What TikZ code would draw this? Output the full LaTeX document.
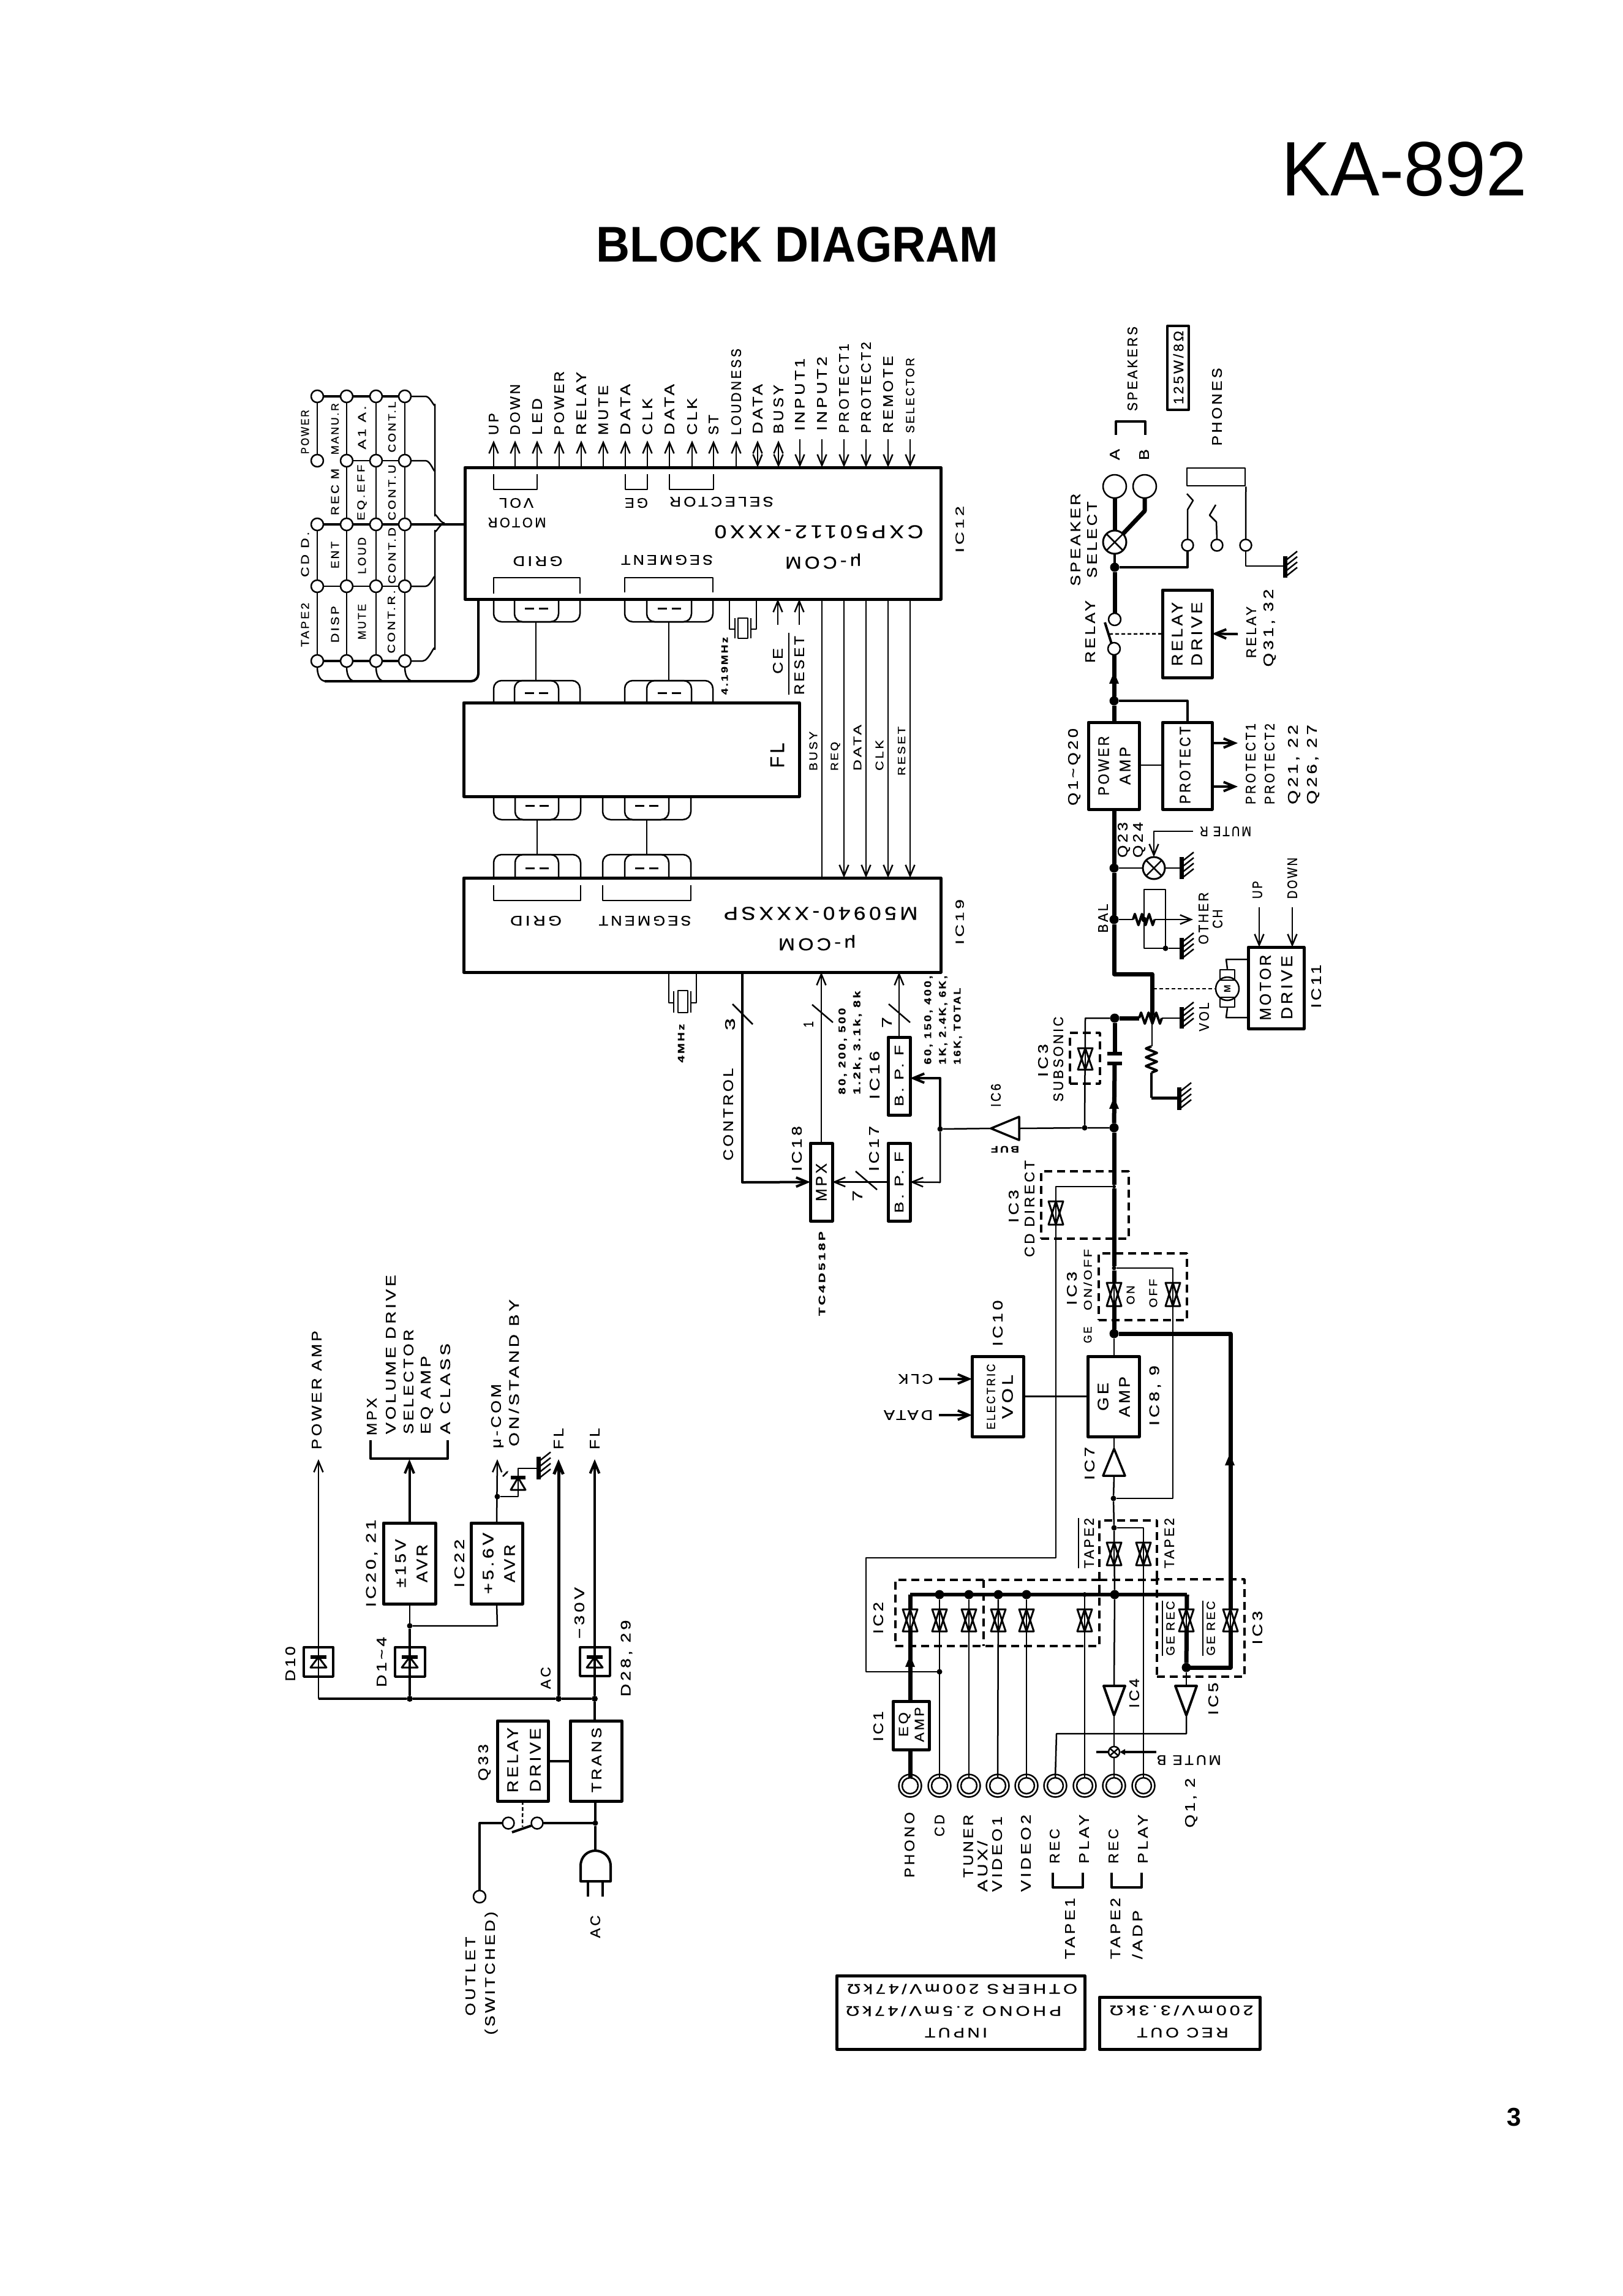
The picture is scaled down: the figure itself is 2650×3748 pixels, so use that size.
\documentclass[tikz,border=0pt]{standalone}
\usepackage{fontspec}
\usepackage{graphicx}
\usetikzlibrary{arrows.meta,calc}
\setmainfont[LetterSpace=16,FakeBold=0.6]{Liberation Sans}
\newfontfamily\plainf{Liberation Sans}
\newsavebox\tbx
\newdimen\tbd
\newcount\tn
\newcommand\fitt[3]{\pgfmathsetmacro\fsz{#2*1.08}\sbox\tbx{\fontsize{\fsz}{\fsz}\selectfont #3}\tbd=\wd\tbx\relax\pgfmathsetmacro\ff{#1/\tbd}\scalebox{\ff}[1]{\usebox\tbx}}
\newcommand\tV[5][21]{\global\advance\tn by 1 \node[rotate=90,txt] (t\the\tn) at (#2,#3) {\fitt{#4}{#1}{#5}};}
\newcommand\tVw[5][21]{\global\advance\tn by 1 \node[rotate=90,anchor=west,txt] (t\the\tn) at (#2,#3) {\fitt{#4}{#1}{#5}};}
\newcommand\tR[5][21]{\global\advance\tn by 1 \node[rotate=180,txt] (t\the\tn) at (#2,#3) {\fitt{#4}{#1}{#5}};}
\newcommand\bx[6][boxs]{\node[#1,minimum width={(#5-#3)*1pt},minimum height={(#6-#4)*1pt}] (#2) at ({(#3+#5)/2},{(#4+#6)/2}) {};}
\newcommand\dt[4][9]{\node[circle,fill=black,inner sep=0pt,outer sep=0pt,minimum size=#1pt] (#2) at (#3,#4) {};}
\newcommand\term[4][20]{\node[term,minimum size=#1pt] (#2) at (#3,#4) {};}
\newcommand\lampx[4][19]{\node[term,minimum size={2*#1*1pt},line width=3pt] (#2) at (#3,#4) {};\draw[wire] (#2.north east)--(#2.south west) (#2.north west)--(#2.south east);}
\newcommand\tgate[3]{\draw[line width=3pt,fill=white] (#1-12,#2)--(#1+12,#2)--(#1,#3)--cycle; \draw[line width=3pt] (#1-12,#3)--(#1+12,#3)--(#1,#2)--cycle; \draw[line width=2.5pt] (#1,#2)--(#1,#3);}
\newcommand\gndsym[3]{\draw[line width=7pt] (#1,#2)--(#1,#3); \foreach \k in {1,2,3,4}{\draw[line width=2.5pt] ($(#1,#2)+(1,{(\k-0.2)*(#3-#2)/4})$)--++(19,-15);}}
\newcommand\upar[2]{\fill (#1,#2-10)--(#1+8,#2+9)--(#1-8,#2+9)--cycle;}
\newcommand\zzh[3]{(#1,#2) -- ++({#3/12},-9) -- ++({#3/6},18) -- ++({#3/6},-18) -- ++({#3/6},18) -- ++({#3/6},-18) -- ++({#3/6},18) -- ++({#3/12},-9)}
\newcommand\zzv[3]{(#1,#2) -- ++(-9,{#3/12}) -- ++(18,{#3/6}) -- ++(-18,{#3/6}) -- ++(18,{#3/6}) -- ++(-18,{#3/6}) -- ++(18,{#3/6}) -- ++(-9,{#3/12})}
\newcommand\grp[6]{\draw[wire,rounded corners=13pt] (#1,#5)--(#1,#6)--(#4,#6)--(#4,#5); \draw[wire,rounded corners=13pt] (#2,#5)--(#2,#6)--(#3,#6)--(#3,#5); \draw[line width=3pt] ({(#2+#3)/2-19},{#5+(#6-#5)*.42})--++(15,0) ({(#2+#3)/2+4},{#5+(#6-#5)*.42})--++(15,0);}
\newcommand\diode[4]{\draw[line width=6pt] (#1-#4,#2)--(#1+#4,#2); \draw[line width=3pt] (#1,#2)--(#1-#4,#3)--(#1+#4,#3)--cycle;}
\tikzset{
 txt/.style={inner sep=0pt,outer sep=0pt},
 wire/.style={line width=2.5pt},
 mid/.style={line width=4pt},
 thk/.style={line width=7pt},
 ar/.style={-{Straight Barb[length=18pt,width=15pt]}},
 ara/.style={{Straight Barb[length=18pt,width=15pt]}-{Straight Barb[length=18pt,width=15pt]}},
 boxs/.style={draw,line width=5pt,inner sep=0pt,outer sep=0pt,fill=none},
 term/.style={circle,draw,line width=2.5pt,fill=white,inner sep=0pt,outer sep=0pt},
 dbox/.style={draw,line width=3.5pt,dash pattern=on 13pt off 8pt,inner sep=0pt,outer sep=0pt},
 dotl/.style={line width=2.5pt,dash pattern=on 6pt off 4pt}
}
\begin{document}
\begin{tikzpicture}[x=1pt,y=-1pt,line join=round]
\fill[white] (0,0) rectangle (2650,3748);
\useasboundingbox (0,0) rectangle (2650,3748);
% titles
\node[txt,anchor=west] (title) at (2092,276) {\plainf\fontsize{126}{126}\selectfont\scalebox{.955}[1]{KA-892}};
\node[txt] (bd) at (1302,399) {\plainf\bfseries\fontsize{82}{82}\selectfont\scalebox{.93}[1]{BLOCK DIAGRAM}};
\node[txt] (pg) at (2472,3456) {\plainf\bfseries\fontsize{42}{42}\selectfont 3};
% chips
\bx{ic12}{759}{763}{1536}{978}
\bx{fl}{757}{1147}{1305}{1300}
\bx{ic19}{757}{1433}{1536}{1587}
% IC12 top pins
\foreach \xx/\tt/\LL/\yy in {806/UP/36/710,841/DOWN/83/710,877/LED/60/710,913/POWER/104/710,949/RELAY/103/710,985/MUTE/81/710,1021/DATA/83/710,1057/CLK/60/710,1093/DATA/83/710,1130/CLK/60/710,1165/ST/33/710,1202/LOUDNESS/141/710}{
 \draw[wire,ar] (\xx,0 |- ic12.north) -- (\xx,719);
 \tVw{\xx}{\yy}{\LL}{\tt}
}
\foreach \xx/\tt/\LL in {1237/DATA/81,1271/BUSY/80}{
 \draw[wire,ara] (\xx,0 |- ic12.north) -- (\xx,719);
 \tVw{\xx}{708}{\LL}{\tt}
}
\foreach \xx/\tt/\LL/\yy in {1306/INPUT1/118/703,1342/INPUT2/121/703,1378/PROTECT1/146/707,1414/PROTECT2/149/707,1450/REMOTE/126/707}{
 \draw[wire,ar] (\xx,717) -- (\xx,0 |- ic12.north);
 \tVw{\xx}{\yy}{\LL}{\tt}
}
\draw[wire,ar] (1486,717) -- (1486,0 |- ic12.north);
\tVw[18]{1486}{707}{123}{SELECTOR}
% brackets in IC12
\draw[wire] (806,774)--(806,799)--(877,799)--(877,774);
\draw[wire] (1021,774)--(1021,799)--(1057,799)--(1057,774);
\draw[wire] (1093,774)--(1093,799)--(1165,799)--(1165,774);
\tR{843}{821}{56}{VOL}
\tR{844}{853}{95}{MOTOR}
\tR{1039}{821}{38}{GE}
\tR{1178}{819}{170}{SELECTOR}
\tR[28]{1337}{868}{341}{CXP50112-XXX0}
\tR[26]{1344}{916}{124}{μ-COM}
\tR{878}{916}{81}{GRID}
\tR{1089}{914}{150}{SEGMENT}
\draw[wire] (806,969)--(806,943)--(947,943)--(947,969);
\draw[wire] (1020,967)--(1020,943)--(1164,943)--(1164,967);
\tV[18]{1567}{864}{76}{IC12}
% key matrix
\foreach \r/\yy in {1/647,2/752,3/856,4/957,5/1079}{
 \foreach \c/\xx in {1/518,2/566,3/614,4/661}{
  \term{k\r\c}{\xx}{\yy}
 }
}
\draw[wire] (k11)--(k21) (k31)--(k41)--(k51);
\foreach \c in {2,3,4}{\draw[wire] (k1\c)--(k2\c)--(k3\c)--(k4\c)--(k5\c);}
\draw[mid] (k11)--(k12)--(k13)--(k14);
\draw[wire] (k22)--(k23)--(k24);
\draw[mid] (k31)--(k32)--(k33)--(k34);
\draw[wire] (k41)--(k42)--(k43)--(k44);
\draw[mid] (k51)--(k52)--(k53)--(k54);
\coordinate (busj) at (726,854);
\draw[mid] (k34)--(759,0 |- k34) ;
\draw[wire] (k14.east)--(695,647) to[out=0,in=-90] (710,660) -- (710,842) to[out=90,in=180] (busj);
\draw[wire] (k24.east)--(695,752) to[out=0,in=-90] (710,767);
\draw[wire] (k54.east)--(690,1079) to[out=0,in=90] (710,1060) -- (710,866) to[out=-90,in=180] (busj);
\draw[wire] (k44.east)--(695,957) to[out=0,in=90] (710,943);
\draw[mid,rounded corners=12pt] (781,978)--(781,1112)--(530,1112);
\foreach \c in {1,2,3,4}{\draw[wire] (k5\c.south) to[out=-90,in=180] ++(14,23);}
\tV[17]{498}{705}{72}{POWER}
\tV[17]{498}{1020}{72}{TAPE2}
\tV[17]{498}{905}{74}{CD D.}
\tV[16]{547}{700}{84}{MANU.R}
\tV[17]{547}{803}{76}{REC M}
\tV[17]{547}{906}{44}{ENT}
\tV[17]{547}{1019}{60}{DISP}
\tV[17]{591}{698}{71}{A1 A.}
\tV[16]{591}{804}{91}{EQ.EFF}
\tV[17]{591}{907}{60}{LOUD}
\tV[17]{591}{1015}{58}{MUTE}
\tV[16]{640}{697}{83}{CONT.L}
\tV[16]{640}{804}{91}{CONT.U}
\tV[16]{640}{907}{92}{CONT.D}
\tV[16]{639}{1015}{103}{CONT.R.}
% IC12-FL-IC19 groups
\grp{806}{840}{912}{947}{978}{1015}
\grp{1020}{1056}{1129}{1164}{978}{1015}
\grp{806}{840}{912}{947}{1147}{1111}
\grp{1020}{1056}{1129}{1164}{1147}{1111}
\grp{806}{841}{912}{948}{1300}{1338}
\grp{984}{1020}{1092}{1128}{1300}{1338}
\grp{806}{841}{912}{948}{1433}{1395}
\grp{984}{1020}{1092}{1128}{1433}{1395}
\draw[wire] (875,1015)--(875,1111) (1092,1015)--(1092,1111) (877,1338)--(877,1395) (1056,1338)--(1056,1395);
\tV[30]{1269}{1233}{41}{FL}
% IC19
\draw[wire] (806,1445)--(806,1470)--(948,1470)--(948,1445);
\draw[wire] (984,1445)--(984,1470)--(1128,1470)--(1128,1445);
\tR{875}{1503}{84}{GRID}
\tR{1053}{1503}{151}{SEGMENT}
\tR[28]{1340}{1491}{317}{M50940-XXXSP}
\tR[26]{1334}{1539}{126}{μ-COM}
\tV[18]{1567}{1505}{74}{IC19}
% crystals
\draw[wire] (1191,0 |- ic12.south)--(1191,1027)--(1200,1027) (1235,0 |- ic12.south)--(1235,1027)--(1226,1027);
\draw[wire] (1200,1009)--(1200,1042) (1226,1009)--(1226,1042);
\bx[draw,line width=2.5pt,inner sep=0pt]{xt1}{1205}{1009}{1221}{1042}
\tV[14]{1183}{1087}{94}{\bfseries 4.19MHz}
\draw[wire] (1092,0 |- ic19.south)--(1092,1637)--(1100,1637) (1137,0 |- ic19.south)--(1137,1637)--(1128,1637);
\draw[wire] (1100,1618)--(1100,1653) (1128,1618)--(1128,1653);
\bx[draw,line width=2.5pt,inner sep=0pt]{xt2}{1107}{1617}{1123}{1653}
\tV[14]{1112}{1703}{63}{\bfseries 4MHz}
% CE RESET
\draw[wire,ar] (1270,1020)--(1270,0 |- ic12.south);
\draw[wire,ar] (1305,1020)--(1305,0 |- ic12.south);
\tV{1270}{1079}{42}{CE}
\tV{1305}{1086}{96}{RESET}
\draw[wire] (1288,1033)--(1288,1134);
% buses
\draw[wire] (1342,0 |- ic12.south)--(1342,0 |- ic19.north);
\foreach \xx in {1378,1414,1450,1486}{\draw[wire,ar] (\xx,0 |- ic12.south)--(\xx,0 |- ic19.north);}
\tVw[17]{1328}{1258}{64}{BUSY}
\tVw[16]{1364}{1258}{47}{REQ}
\tVw[17]{1400}{1258}{75}{DATA}
\tVw[17]{1436}{1258}{50}{CLK}
\tVw[16]{1472}{1266}{80}{RESET}
% below IC19
\bx{mpx}{1323}{1866}{1359}{1993}
\bx{bpf1}{1450}{1693}{1486}{1820}
\bx{bpf2}{1450}{1866}{1486}{1993}
\draw[mid,ar] (1212,0 |- ic19.south)--(1212,1930)--(mpx.west);
\draw[wire] (1196,1639)--(1229,1672) (1326,1640)--(1360,1669) (1451,1639)--(1486,1669) (1397,1912)--(1432,1942);
\tV{1192}{1672}{20}{3}
\tV{1320}{1672}{10}{1}
\tV{1448}{1669}{18}{7}
\tV{1400}{1952}{18}{7}
\tV{1189}{1819}{151}{CONTROL}
\draw[wire,ar] (mpx.north)--(mpx.north |- ic19.south);
\draw[wire,ar] (bpf1.north)--(bpf1.north |- ic19.south);
\draw[wire,ar] (bpf2.west)--(mpx.east);
\tV[15]{1376}{1716}{141}{\bfseries 80, 200, 500}
\tV[15]{1400}{1702}{169}{\bfseries 1.2k, 3.1k, 8k}
\tV{1428}{1755}{79}{IC16}
\tV[15]{1516}{1665}{145}{\bfseries 60, 150, 400,}
\tV[15]{1540}{1665}{145}{\bfseries 1K, 2.4K, 6K,}
\tV[15]{1564}{1675}{125}{\bfseries 16K, TOTAL}
\tV{1427}{1875}{74}{IC17}
\tV{1301}{1875}{74}{IC18}
\tV[19]{1468}{1756}{100}{B. P. F}
\tV[19]{1468}{1930}{100}{B. P. F}
\tV[23]{1341}{1930}{62}{MPX}
\tV[14]{1342}{2079}{138}{\bfseries TC4D518P}
% buffer
\dt{d10}{1535}{1843}
\coordinate (buft) at (1618,1842);
\coordinate (bufb) at (1664,1842);
\draw[mid,ar] (d10)--(1535,1760)--(bpf1.east |- 1535,1760);
\draw[wire,ar] (d10)--(1535,1930)--(bpf2.east);
\draw[wire] (d10)--(buft);
\draw[line width=3.5pt] (buft)--(1664,1823)--(1664,1861)--cycle;
\tV{1626}{1788}{38}{IC6}
\tR[14]{1641}{1876}{46}{\bfseries BUF}
% right chain
\node[term,minimum size=38pt] (spA) at (1820,794) {};
\node[term,minimum size=38pt] (spB) at (1869,794) {};
\lampx{ls}{1820}{885}
\dt[15]{d1}{1820}{926}
\term{rc1}{1820}{1011}
\term{rc2}{1819}{1059}
\dt[15]{d2}{1819}{1144}
\term[19]{c1}{1939}{890}
\term[19]{c2}{1987}{890}
\term[19]{c3}{2034}{890}
\bx{pa}{1777}{1179}{1860}{1321}
\bx{prot}{1898}{1179}{1979}{1321}
\bx{rd}{1898}{963}{1979}{1106}
\draw[thk] (spA.south)--(ls.north);
\coordinate (bk) at (1869,834);
\draw[thk] (spB.south)--(bk)--(ls.north east);
\draw[mid] (ls.south)--(d1);
\draw[thk] (d1)--(rc1.north);
\draw[mid] (d1) -| (c1.south);
\draw[mid] (1815,1051)--(1804,1016);
\draw[dotl] (1811,1035)--(rd.west);
\draw[mid,ar] (2021,1035)--(rd.east);
\draw[thk] (rc2.south)--(d2)--(d2 |- pa.north);
\upar{1819}{1107}
\draw[mid] (d2) -| (prot.north);
\coordinate (gp) at (2096,924);
\draw[wire] (c3.south) |- (gp);
\gndsym{2098}{908}{943}
\bx[draw,line width=2.5pt,inner sep=0pt]{phr}{1938}{764}{2033}{793}
\draw[wire] (phr.south east)--(c3.north);
\draw[wire] (c1.north)--(1939,832)--(1948,817)--(1938,806);
\draw[wire] (c2.north)--(1986,852)--(1975,841)--(1985,824);
\draw[mid] (1822,710)--(1822,688)--(1870,688)--(1870,710);
\tV{1820}{742}{18}{A}
\tV{1868}{742}{18}{B}
\tV{1849}{602}{138}{SPEAKERS}
\bx[draw,line width=4pt,inner sep=0pt]{wbox}{1906}{532}{1941}{669}
\tV{1924}{600}{120}{125W/8Ω}
\tV{1987}{664}{127}{PHONES}
\tV{1756}{881}{151}{SPEAKER}
\tV{1783}{881}{125}{SELECT}
\tV{1780}{1031}{102}{RELAY}
\tV[23]{1922}{1035}{104}{RELAY}
\tV[23]{1954}{1035}{104}{DRIVE}
\tV{2043}{1032}{84}{RELAY}
\tV{2073}{1025}{127}{Q31, 32}
\tV[23]{1802}{1250}{97}{POWER}
\tV[23]{1837}{1250}{62}{AMP}
\tV[23]{1935}{1249}{126}{PROTECT}
\draw[wire] (pa.east |- 0,1249)--(prot.west |- 0,1249);
\draw[mid,ar] (prot.east |- 0,1213)--(2021,1213);
\draw[mid,ar] (prot.east |- 0,1284)--(2021,1284);
\tVw{2042}{1313}{132}{PROTECT1}
\tVw{2073}{1313}{132}{PROTECT2}
\tVw{2113}{1313}{130}{Q21, 22}
\tVw{2144}{1313}{130}{Q26, 27}
\tV{1754}{1252}{126}{Q1\textasciitilde Q20}
% mute, bal
\dt[15]{d3}{1819}{1417}
\dt[15]{d4}{1819}{1501}
\dt[15]{d5}{1820}{1662}
\dt[15]{d6}{1819}{1841}
\dt[9]{d6b}{1771}{1841}
\dt[9]{dvw}{1881}{1662}
\lampx[18]{lm}{1884}{1417}
\draw[thk] (d2 |- pa.south)--(d3)--(d4)--(1819,1590)--(1881,1590)--(dvw);
\draw[wire] (d3)--(lm.west);
\coordinate (gm) at (1929,1417);
\draw[wire] (lm.east)--(gm);
\gndsym{1929}{1399}{1435}
\coordinate (mr) at (1948,1357);
\draw[wire,ar] (mr)--(1884,1357)--(lm.north);
\tR{2001}{1357}{84}{MUTE R}
\tV{1835}{1371}{58}{Q23}
\tV{1860}{1371}{58}{Q24}
\tV{1801}{1499}{47}{BAL}
\dt[9]{dbw}{1868}{1501}
\dt[9]{dbg}{1903}{1548}
\draw[wire] (d4)--(1850,1501);
\draw[mid] \zzh{1850}{1501}{35};
\draw[wire,ar] (1885,1501)--(1948,1501);
\draw[wire] (dbw)--(1868,1452)--(1903,1452)--(dbg)--(1868,1548)--(dbw);
\draw[wire] (dbg)--(1929,1548);
\gndsym{1929}{1531}{1566}
\tV{1965}{1499}{85}{OTHER}
\tV{1988}{1500}{31}{CH}
% vol, motor
\draw[thk] (d5)--(1860,1662);
\draw[mid] \zzh{1860}{1662}{37};
\draw[wire] (1897,1662)--(1929,1662);
\gndsym{1929}{1644}{1679}
\tV{1966}{1660}{47}{VOL}
\draw[wire] (dvw)--(1881,1708);
\draw[mid] \zzv{1880}{1708}{43};
\draw[mid] (1880,1751)--(1880,1792);
\draw[line width=5pt] (1880,1792)--(1925,1792);
\gndsym{1925}{1775}{1812}
\node[term,minimum size=38pt] (mot) at (2004,1614) {\plainf\bfseries\fontsize{15}{15}\selectfont\rotatebox{90}{M}};
\draw[dotl] (1883,1614)--(mot.west);
\bx[draw,line width=2.5pt,inner sep=0pt]{br1}{1992}{1583}{2016}{1600}
\bx[draw,line width=2.5pt,inner sep=0pt]{br2}{1992}{1628}{2016}{1644}
\bx{md}{2038}{1546}{2129}{1679}
\draw[wire] (br1.north)--(2002,1566)--(2038,1566);
\draw[wire] (br2.south)--(2002,1661)--(2038,1661);
\draw[wire,ar] (2056,1481)--(2056,0 |- md.north);
\draw[wire,ar] (2110,1481)--(2110,0 |- md.north);
\tVw{2053}{1467}{29}{UP}
\tVw{2110}{1467}{67}{DOWN}
\tV[24]{2066}{1612}{107}{MOTOR}
\tV[24]{2101}{1612}{104}{DRIVE}
\tV{2149}{1610}{71}{IC11}
% capacitor
\draw[thk] (d5)--(1820,1720);
\draw[line width=6pt] (1808,1720)--(1832,1720) (1808,1736)--(1832,1736);
\draw[thk] (1820,1736)--(d6);
\upar{1819}{1801}
% subsonic
\draw[wire] (d5)--(1772,1662)--(d6b);
\draw[wire] (d6)--(d6b)--(bufb);
\tgate{1772}{1711}{1746}
\bx[dbox]{dbsub}{1747}{1686}{1796}{1769}
\tV{1703}{1731}{54}{IC3}
\tV{1728}{1729}{139}{SUBSONIC}
% main down
\dt[6]{d7}{1819}{1937}
\dt[7]{d8}{1819}{2070}
\dt[15]{d9}{1819}{2177}
\dt[9]{d11}{1818}{2446}
\draw[thk] (d6)--(d7)--(d8);
\draw[thk] (d8)--(d9);
\tgate{1819}{2094}{2132}
\coordinate (cdl) at (1724,1937);
\draw[wire] (d7)--(cdl)--(1724,2543)--(1414,2543)--(1414,2729)--(1534,2729);
\tgate{1724}{1961}{1999}
\bx[dbox]{dbcd}{1700}{1912}{1843}{2022}
\tV{1655}{1969}{54}{IC3}
\tV{1681}{1973}{158}{CD  DIRECT}
\draw[wire] (d8)--(1915,2070)--(1915,2446)--(d11);
\tgate{1915}{2094}{2132}
\bx[dbox]{dbon}{1794}{2046}{1938}{2155}
\tV[17]{1846}{2114}{31}{ON}
\tV[17]{1883}{2111}{47}{OFF}
\tV{1750}{2103}{55}{IC3}
\tV[17]{1776}{2089}{100}{ON/OFF}
\tV[17]{1776}{2179}{27}{GE}
\bx{geamp}{1776}{2214}{1860}{2345}
\bx{evol}{1587}{2214}{1671}{2345}
\draw[wire] (d9)--(d9 |- geamp.north);
\draw[wire] (evol.east)--(geamp.west);
\draw[mid,ar] (1533,2251)--(evol.west |- 0,2251);
\draw[mid,ar] (1533,2310)--(evol.west |- 0,2310);
\tR{1495}{2251}{57}{CLK}
\tR{1483}{2310}{80}{DATA}
\tV[23]{1801}{2280}{46}{GE}
\tV[23]{1836}{2280}{66}{AMP}
\tV[18]{1618}{2280}{107}{ELECTRIC}
\tV[23]{1645}{2280}{72}{VOL}
\tV{1629}{2160}{75}{IC10}
\tV{1886}{2278}{98}{IC8, 9}
\draw[wire] (d9 |- geamp.south)--(1819,2365);
\draw[line width=3.5pt] (1819,2365)--(1801,2409)--(1837,2409)--cycle;
\draw[wire] (1819,2409)--(d11);
\tV{1779}{2389}{54}{IC7}
% ge line right
\draw[thk] (d9)--(2009,2177)--(2009,2722)--(1937,2722);
\upar{2008}{2383}
% jacks
\foreach \i/\xx in {1/1486,2/1534,3/1582,4/1629,5/1676,6/1723,7/1771,8/1819,9/1867}{
 \node[term,minimum size=37pt] (jo\i) at (\xx,2915) {};
 \node[term,minimum size=26pt] (ji\i) at (\xx,2915) {};
}
% bus
\dt[15]{db2}{1534}{2603}
\dt[15]{db3}{1582}{2603}
\dt[15]{db4}{1630}{2603}
\dt[15]{db5}{1676}{2603}
\dt[8]{db7}{1771}{2603}
\dt[15]{db8}{1820}{2603}
\dt[6]{db9}{1867}{2603}
\dt[15]{d12}{1937}{2722}
\dt[9]{dcd}{1534}{2729}
\draw[line width=6pt] (1486,2603)--(1938,2603);
\bx{eq}{1458}{2777}{1517}{2856}
\draw[thk] (1486,2603)--(eq.north -| 1486,0);
\upar{1486}{2712}
\draw[thk] (eq.south -| ji1)--(ji1.north);
\draw[wire] (db2)--(ji2.north);
\draw[wire] (db3)--(ji3.north);
\draw[wire] (db4)--(ji4.north);
\draw[wire] (db5)--(ji5.north);
\draw[wire] (db7)--(ji7.north);
\foreach \xx in {1486,1534,1582,1630,1676,1771}{\tgate{\xx}{2627}{2663}}
\dt[9]{dt2}{1819}{2494}
\draw[wire] (d11)--(dt2)--(db8);
\draw[wire] (dt2)--(1867,2494)--(ji9.north);
\tgate{1819}{2518}{2555}
\tgate{1867}{2518}{2555}
\draw[thk] (1938,2603)--(d12);
\tgate{1937}{2627}{2663}
\tgate{2009}{2627}{2663}
\bx[dbox]{dbic2}{1462}{2579}{1795}{2687}
\bx[dbox]{dbic3}{1889}{2578}{2032}{2737}
\draw[line width=3.5pt,dash pattern=on 13pt off 8pt] (1606,2579)--(1606,2687);
\draw[line width=3.5pt,dash pattern=on 13pt off 8pt] (1795,2579)--(1795,2482)--(1889,2482)--(1889,2578);
\draw[line width=3.5pt,dash pattern=on 13pt off 8pt] (1795,2579)--(1889,2579);
\tV{1434}{2641}{52}{IC2}
\tV{2053}{2657}{55}{IC3}
\tV{1778}{2519}{82}{TAPE2}
\draw[wire] (1761,2478)--(1761,2560);
\tV{1909}{2519}{82}{TAPE2}
\tV[18]{1911}{2658}{89}{GE  REC}
\draw[wire] (1898,2613)--(1898,2703);
\tV[18]{1977}{2658}{89}{GE  REC}
\draw[wire] (1964,2613)--(1964,2703);
% buffers
\draw[wire] (db8)--(1819,2752);
\draw[line width=4pt,fill=white] (1802,2752)--(1837,2752)--(1819,2800)--cycle;
\draw[wire] (d12)--(1937,2752);
\draw[line width=4pt,fill=white] (1919,2752)--(1954,2752)--(1937,2800)--cycle;
\tV{1852}{2764}{48}{IC4}
\tV{1981}{2773}{53}{IC5}
\draw[wire] (1937,2800)--(1937,2830)--(1725,2830)--(ji6.north);
\node[term,minimum size=18pt] (lb) at (1819,2860) {};
\draw[wire] (1812,2854)--(1826,2866) (1812,2866)--(1826,2854);
\draw[wire] (1819,2800)--(lb.north);
\draw[wire] (lb.south)--(ji8.north);
\draw[mid] (1790,2860)--(lb.west);
\draw[mid,-{Triangle[length=9pt,width=9pt]}] (1888,2860)--(lb.east);
\tR{1941}{2873}{105}{MUTE B}
\tV{1945}{2943}{81}{Q1, 2}
\tV[20]{1477}{2815}{40}{EQ}
\tV[20]{1501}{2815}{57}{AMP}
\tV{1434}{2818}{49}{IC1}
% jack labels
\tVw{1485}{3065}{107}{PHONO}
\tVw{1534}{2998}{36}{CD}
\tVw{1581}{3065}{103}{TUNER}
\tVw{1604}{3088}{83}{AUX/}
\tVw{1628}{3088}{123}{VIDEO1}
\tVw{1675}{3088}{126}{VIDEO2}
\tVw{1722}{3042}{57}{REC}
\tVw{1770}{3042}{80}{PLAY}
\tVw{1818}{3042}{57}{REC}
\tVw{1866}{3042}{80}{PLAY}
\draw[mid] (1719,3057)--(1719,3081)--(1768,3081)--(1768,3057);
\draw[mid] (1815,3057)--(1815,3081)--(1864,3081)--(1864,3057);
\tVw{1747}{3198}{100}{TAPE1}
\tVw{1821}{3198}{100}{TAPE2}
\tVw{1857}{3198}{80}{/ADP}
% spec boxes
\bx{inb}{1366}{3225}{1771}{3345}
\bx{rob}{1795}{3260}{2057}{3345}
\tR{1571}{3247}{376}{OTHERS  200mV/47kΩ}
\tR{1557}{3283}{352}{PHONO  2.5mV/47kΩ}
\tR{1561}{3318}{102}{INPUT}
\tR{1929}{3282}{235}{200mV/3.3kΩ}
\tR{1931}{3318}{149}{REC  OUT}
% power section
\bx{a15}{626}{2486}{711}{2618}
\bx{a56}{769}{2486}{853}{2618}
\bx[draw,line width=3.5pt,inner sep=0pt]{b10}{496}{2689}{544}{2737}
\bx[draw,line width=3.5pt,inner sep=0pt]{b14}{645}{2689}{694}{2737}
\bx[draw,line width=3.5pt,inner sep=0pt]{b28}{947}{2689}{996}{2736}
\dt[10]{p1}{669}{2773}
\dt[10]{p2}{912}{2773}
\dt[10]{p3}{971}{2773}
\dt[9]{p4}{669}{2654}
\dt[9]{p5}{812}{2443}
\draw[mid] (520,2773)--(p1)--(p2)--(p3);
\draw[wire,ar] (520,2773)--(520,2382);
\diode{520}{2705}{2722}{13}
\draw[mid] (p1)--(p4);
\diode{669}{2705}{2722}{13}
\draw[wire] (p4)--(a15.south -| p4);
\draw[wire] (p4)--(812,2654)--(a56.south);
\draw[mid,ar] (a15.north)--(a15.north |- 0,2382);
\draw[mid] (605,2351)--(605,2381)--(731,2381)--(731,2351);
\draw[wire,ar] (a56.north)--(812,2382);
\draw[wire] (p5)--(846,2443)--(846,2397)--(876,2397);
\diode{846}{2412}{2432}{12}
\gndsym{879}{2378}{2415}
\draw[wire,-{Stealth[length=5pt,width=4pt]}] (821,2410)--(830,2401);
\draw[line width=5pt,ar] (p2)--(912,2382);
\draw[mid,ar] (p3)--(971,2382);
\diode{971}{2705}{2722}{13}
\tVw{517}{2366}{194}{POWER  AMP}
\tVw{607}{2343}{61}{MPX}
\tVw{638}{2341}{260}{VOLUME  DRIVE}
\tVw{667}{2341}{171}{SELECTOR}
\tVw{697}{2341}{128}{EQ  AMP}
\tVw{727}{2341}{148}{A  CLASS}
\tVw{812}{2364}{105}{μ-COM}
\tVw{839}{2361}{240}{ON/STAND  BY}
\tVw{912}{2366}{35}{FL}
\tVw{971}{2366}{35}{FL}
\tV[23]{654}{2552}{79}{±15V}
\tV[23]{689}{2552}{62}{AVR}
\tV[23]{797}{2552}{100}{+5.6V}
\tV[23]{832}{2552}{62}{AVR}
\tV{607}{2552}{143}{IC20, 21}
\tV{750}{2552}{79}{IC22}
\tV{623}{2713}{82}{D1\textasciitilde 4}
\tV{474}{2716}{57}{D10}
\tV{891}{2739}{36}{AC}
\tV{946}{2633}{84}{−30V}
\tV{1023}{2707}{125}{D28, 29}
% trans
\bx{trans}{931}{2809}{1015}{2940}
\bx{rd2}{812}{2809}{895}{2940}
\draw[mid] (p3)--(p3 |- trans.north);
\draw[mid] (rd2.east)--(trans.west);
\dt[9]{p6}{972}{2976}
\term[19]{sw1}{877}{2976}
\term[19]{sw2}{830}{2976}
\term[20]{outl}{783}{3096}
\draw[mid] (trans.south -| p6)--(p6);
\draw[mid] (p6)--(sw1.east);
\draw[mid] (sw2.west)--(783,2976)--(outl.north);
\draw[mid] (868,2980)--(836,2991);
\draw[dotl] (rd2.south)--(853,2982);
\draw[mid,fill=white] (948,3071)--(948,3046) .. controls (948,3030) and (960,3021) .. (972,3021) .. controls (984,3021) and (997,3030) .. (997,3046) --(997,3071)--cycle;
\draw[mid] (p6)--(972,3021);
\draw[mid] (960,3071)--(960,3096) (984,3071)--(984,3096);
\tV{972}{3145}{37}{AC}
\tV{974}{2873}{106}{TRANS}
\tV[23]{837}{2873}{106}{RELAY}
\tV[23]{874}{2873}{104}{DRIVE}
\tV{791}{2877}{60}{Q33}
\tV{768}{3226}{129}{OUTLET}
\tV{802}{3221}{201}{(SWITCHED)}
\end{tikzpicture}
\end{document}
